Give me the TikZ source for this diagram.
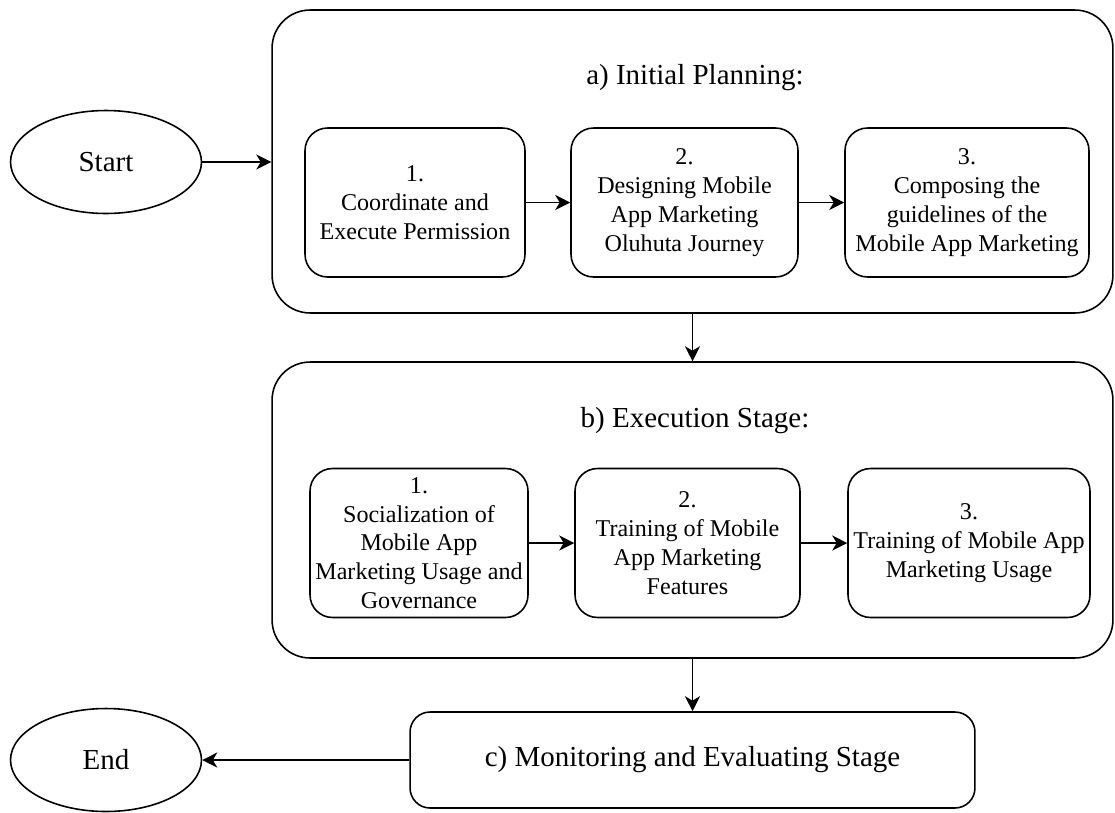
\documentclass[tikz,border=0pt]{standalone}
\usepackage{fontspec}
\setmainfont{Liberation Serif}
\usetikzlibrary{shapes.geometric,arrows.meta}

\begin{document}
\begin{tikzpicture}[x=0.02cm, y=-0.02cm, line width=0.9pt,
    >={Stealth[length=0.3cm,width=0.3cm,inset=0.09cm]},
    terminal/.style={draw, ellipse, minimum width=3.82cm, minimum height=2.06cm, font=\fontsize{16.5}{19}\selectfont},
    stage/.style={draw, rounded corners=0.76cm, minimum width=16.82cm},
    task/.style={draw, rounded corners=0.45cm, minimum height=2.98cm, align=center, inner sep=1pt, font=\fontsize{13.7}{16.4}\selectfont},
    title/.style={font=\fontsize{16.5}{19}\selectfont}]
    \useasboundingbox (0,0) rectangle (1115,812);

    \node[terminal] (start) at (106,162) {Start};
    \node[stage, minimum height=6.06cm] (initial) at (692.5,161.5) {};
    \node[title] (initialTitle) at (695,78) {a) Initial Planning:};
    \node[task, minimum width=4.4cm] (coordinate) at (415,202.5) {1.\\Coordinate and\\Execute Permission};
    \node[task, minimum width=4.54cm] (designing) at (684.5,202.5) {2.\\Designing Mobile\\App Marketing\\Oluhuta Journey};
    \node[task, minimum width=4.88cm] (composing) at (967,202.5) {3.\\Composing the\\guidelines of the\\Mobile App Marketing};

    \node[stage, minimum height=5.92cm] (execution) at (692.5,510) {};
    \node[title] (executionTitle) at (695,421) {b) Execution Stage:};
    \node[task, minimum width=4.36cm] (socialization) at (419,543) {1.\\Socialization of\\Mobile App\\Marketing Usage and\\Governance};
    \node[task, minimum width=4.5cm] (features) at (687.5,543) {2.\\Training of Mobile\\App Marketing\\Features};
    \node[task, minimum width=4.84cm] (usage) at (969,543) {3.\\Training of Mobile App\\Marketing Usage};

    \node[draw, rounded corners=0.4cm, minimum width=11.3cm, minimum height=1.92cm, font=\fontsize{16.5}{19}\selectfont] (monitoring) at (692.5,760) {c) Monitoring and Evaluating Stage};
    \node[terminal] (end) at (106,760) {End};

    \draw[->] (start) -- (start -| initial.west);
    \draw[->] (coordinate) -- (designing);
    \draw[->] (designing) -- (composing);
    \draw[->] (initial.south) -- (execution.north);
    \draw[->] (socialization) -- (features);
    \draw[->] (features) -- (usage);
    \draw[->] (execution.south) -- (monitoring.north);
    \draw[->] (monitoring) -- (end);
\end{tikzpicture}
\end{document}
